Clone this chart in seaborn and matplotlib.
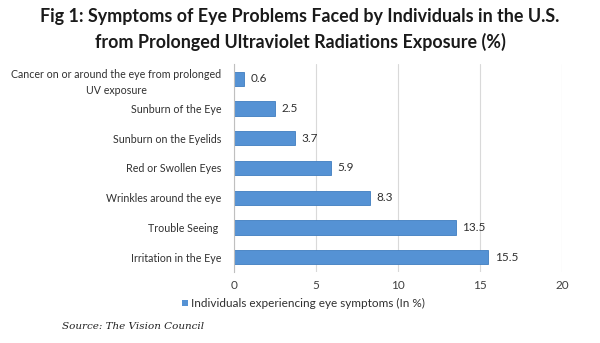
import matplotlib
matplotlib.use("Agg")
import matplotlib.pyplot as plt
import seaborn as sns
import pandas as pd

categories = ["Cancer on or around the eye from prolonged\nUV exposure",
              "Sunburn of the Eye", "Sunburn on the Eyelids", "Red or Swollen Eyes",
              "Wrinkles around the eye", "Trouble Seeing ", "Irritation in the Eye"]
values = [0.6, 2.5, 3.7, 5.9, 8.3, 13.5, 15.5]
xticks = [0, 5, 10, 15, 20]
series_name = "Individuals experiencing eye symptoms (In %)"

sns.set_theme(style="white")
plt.rcParams['font.family'] = ['Lato', 'DejaVu Sans']

df = pd.DataFrame({"cat": categories, "val": values})
fig = plt.figure(figsize=(6, 3.43), dpi=100)
ax = fig.add_axes([0.39, 0.207, 0.547, 0.607])
sns.barplot(data=df, y="cat", x="val", color="#5592D4", edgecolor="#3F7DC0",
            linewidth=0.6, width=0.48, ax=ax, saturation=1)
ax.set_xlim(0, 20)
ax.set_xticks(xticks)
ax.set_xticklabels([str(t) for t in xticks], fontsize=8.5, color="#404040")
ax.tick_params(axis='x', length=0, pad=6)
ax.tick_params(axis='y', length=0, pad=9, labelsize=7.7, labelcolor="#303030")
for lab in ax.get_yticklabels():
    lab.set_horizontalalignment('right')
    lab.set_multialignment('center')
    lab.set_linespacing(1.55)
ax.grid(axis='x', color="#D9D9D9", linewidth=0.8)
ax.set_axisbelow(True)
for s in ["top", "right", "bottom"]:
    ax.spines[s].set_visible(False)
ax.spines["left"].set_color("#BFBFBF")
ax.spines["left"].set_linewidth(0.8)
ax.set_xlabel("")
ax.set_ylabel("")
for i, v in enumerate(values):
    ax.text(v + 0.4, i, f"{v}", va="center", ha="left", fontsize=8.5, color="#303030")

fig.text(0.5, 0.952, "Fig 1: Symptoms of Eye Problems Faced by Individuals in the U.S.",
         ha="center", va="center", fontsize=12.9, fontweight="bold", color="#1a1a1a")
fig.text(0.5, 0.878, "from Prolonged Ultraviolet Radiations Exposure (%)",
         ha="center", va="center", fontsize=12.9, fontweight="bold", color="#1a1a1a")

# legend
fig.patches.append(plt.Rectangle((0.303, 0.107), 0.0095, 0.018, transform=fig.transFigure,
                                 facecolor="#5592D4", edgecolor="none"))
fig.text(0.318, 0.116, series_name, ha="left", va="center", fontsize=8.5, color="#303030")

fig.text(0.103, 0.049, "Source: The Vision Council", ha="left", va="center", fontsize=7.5,
         style="italic", family=["DejaVu Serif"], color="#222222")

fig.savefig("out.png", dpi=100, facecolor="white")
